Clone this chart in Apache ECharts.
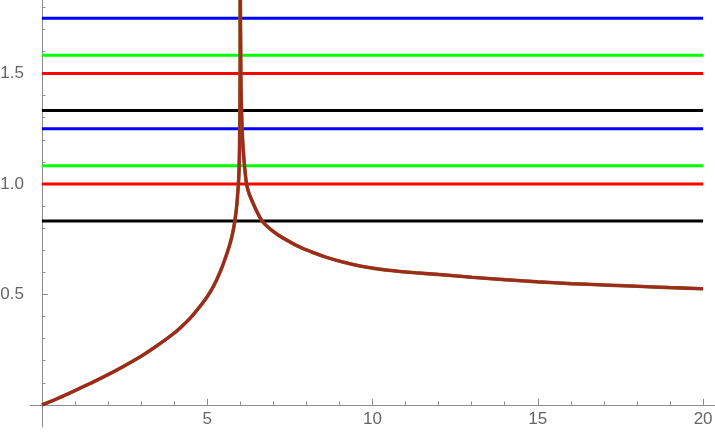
<!DOCTYPE html>
<html>
<head>
<meta charset="utf-8">
<script src="https://cdn.jsdelivr.net/npm/echarts@6/dist/echarts.min.js"></script>
<style>
html,body{margin:0;padding:0;background:#fff;}
#c{width:715px;height:436px;}
</style>
</head>
<body>
<div id="c"></div>
<script>
// Curve samples: left branch (rising to the pole at x=6)
const leftX = [0, 0.5, 1, 1.5, 2, 2.5, 3, 3.5, 4, 4.25, 4.5, 4.75, 5, 5.2, 5.4, 5.55, 5.7, 5.8, 5.87, 5.92, 5.96, 5.98, 5.995, 6.0];
const leftY = [0, 0.031, 0.065, 0.1, 0.137, 0.177, 0.22, 0.27, 0.325, 0.358, 0.395, 0.44, 0.49, 0.54, 0.605, 0.665, 0.735, 0.8, 0.87, 0.95, 1.05, 1.2, 1.5, 1.95];
// right branch (falling from the pole)
const rightX = [6.0, 6.02, 6.05, 6.09, 6.14, 6.19, 6.27, 6.39, 6.52, 6.66, 6.8, 7.0, 7.2, 7.5, 7.81, 8.2, 8.61, 9.1, 9.62, 10.1, 10.63, 11.3, 11.94, 13, 14, 15, 16, 17, 18, 19, 20];
const rightY = [1.95, 1.45, 1.27, 1.154, 1.065, 1.0, 0.955, 0.912, 0.87, 0.833, 0.81, 0.785, 0.764, 0.738, 0.714, 0.69, 0.668, 0.647, 0.629, 0.617, 0.607, 0.598, 0.591, 0.578, 0.567, 0.557, 0.549, 0.543, 0.537, 0.531, 0.526];
// Horizontal levels
const levels = [0.833, 1.0, 1.083, 1.25, 1.333, 1.5, 1.583, 1.75];
const levelXRange = [0, 20];
const xMajorTicks = [5, 10, 15, 20];
const xMinorTicks = [1, 2, 3, 4, 6, 7, 8, 9, 11, 12, 13, 14, 16, 17, 18, 19];
const yMajorTicks = [0.5, 1.0, 1.5];
const yMinorTicks = [0.1, 0.2, 0.3, 0.4, 0.6, 0.7, 0.8, 0.9, 1.1, 1.2, 1.3, 1.4, 1.6, 1.7, 1.8];

const levelColors = ['#000000', '#ff0000', '#00ff00', '#0000ff', '#000000', '#ff0000', '#00ff00', '#0000ff'];
const axisGray = '#8c8c8c';
const labelGray = '#666666';
const font = 'Liberation Sans';

const chart = echarts.init(document.getElementById('c'), null, {renderer: 'canvas'});

const leftBranch = leftX.map((x, i) => [x, leftY[i]]);
const rightBranch = rightX.map((x, i) => [x, rightY[i]]);

const series = [];
levels.forEach((v, i) => {
  series.push({
    type: 'line', xAxisIndex: 0, yAxisIndex: 0,
    data: [[levelXRange[0], v], [levelXRange[1], v]],
    symbol: 'none', silent: true, animation: false,
    lineStyle: {color: levelColors[i], width: 3}
  });
});
[leftBranch, rightBranch].forEach(d => {
  series.push({
    type: 'line', xAxisIndex: 0, yAxisIndex: 0, data: d, smooth: 0.2,
    symbol: 'none', animation: false, clip: true,
    lineStyle: {color: '#7d6a14', width: 3.6}
  });
  series.push({
    type: 'line', xAxisIndex: 0, yAxisIndex: 0, data: d, smooth: 0.2,
    symbol: 'none', animation: false, clip: true,
    lineStyle: {color: '#a1281f', width: 3}
  });
});

const xMin = -0.36, xMax = 20.36, yMin = -0.1, yMax = 1.833;

chart.setOption({
  animation: false,
  grid: {left: 30, right: 0, top: 0, bottom: 9, containLabel: false, outerBoundsMode: 'none'},
  xAxis: [{
    type: 'value', min: xMin, max: xMax, position: 'bottom',
    axisLine: {show: true, onZero: true, onZeroAxisIndex: 0, lineStyle: {color: axisGray, width: 1}},
    axisTick: {show: true, inside: true, length: 6, customValues: xMajorTicks, lineStyle: {color: axisGray}},
    axisLabel: {show: true, customValues: xMajorTicks, color: labelGray, fontSize: 17, fontFamily: font, margin: -16,
                formatter: v => String(v)},
    splitLine: {show: false}
  }, {
    type: 'value', min: xMin, max: xMax, position: 'bottom',
    axisLine: {show: false, onZero: true, onZeroAxisIndex: 0},
    axisTick: {show: true, inside: true, length: 3.5, customValues: xMinorTicks, lineStyle: {color: axisGray}},
    axisLabel: {show: false},
    splitLine: {show: false}
  }],
  yAxis: [{
    type: 'value', min: yMin, max: yMax, position: 'left',
    axisLine: {show: true, onZero: true, onZeroAxisIndex: 0, lineStyle: {color: axisGray, width: 1}},
    axisTick: {show: true, inside: true, length: 6, customValues: yMajorTicks, lineStyle: {color: axisGray}},
    axisLabel: {show: true, customValues: yMajorTicks, color: labelGray, fontSize: 17, fontFamily: font, margin: 6,
                formatter: v => v.toFixed(1)},
    splitLine: {show: false}
  }, {
    type: 'value', min: yMin, max: yMax, position: 'left',
    axisLine: {show: false, onZero: true, onZeroAxisIndex: 0},
    axisTick: {show: true, inside: true, length: 3.5, customValues: yMinorTicks, lineStyle: {color: axisGray}},
    axisLabel: {show: false},
    splitLine: {show: false}
  }],
  series: series
});
</script>
</body>
</html>
